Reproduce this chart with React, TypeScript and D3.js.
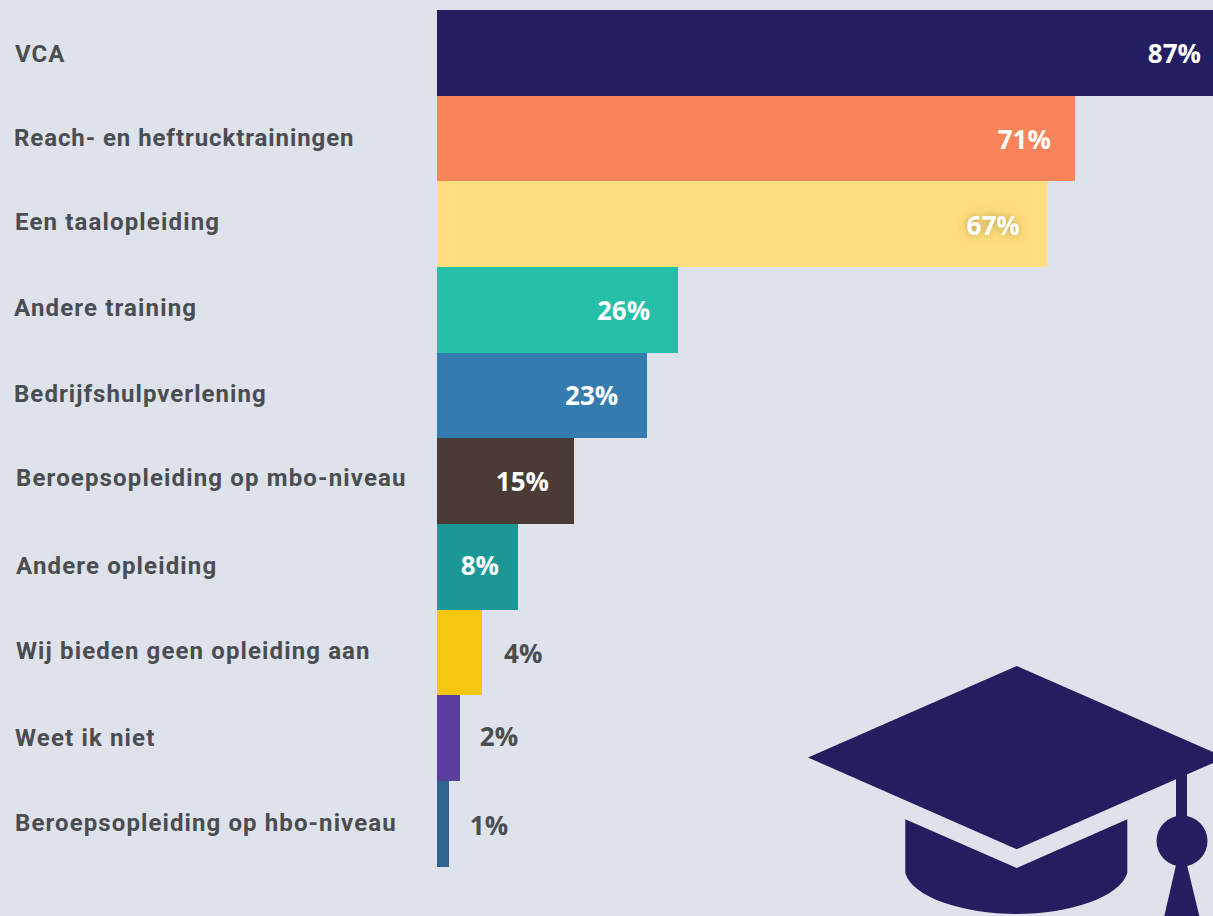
import React from "react";
import * as d3 from "d3";

const categories = ["VCA","Reach- en heftrucktrainingen","Een taalopleiding","Andere training","Bedrijfshulpverlening","Beroepsopleiding op mbo-niveau","Andere opleiding","Wij bieden geen opleiding aan","Weet ik niet","Beroepsopleiding op hbo-niveau"];
const percentLabels = [87,71,67,26,23,15,8,4,2,1];
// bar lengths (the drawn bars are not exact multiples of the rounded labels)
const barValues = [87,70.1,67,26.5,23.1,15.05,8.9,4.95,2.5,1.3];
const colors = ["#221e5f","#f8845a","#fede7e","#25bea6","#347bb0","#4a3b37","#1c9798","#f5c710","#5a3d9c","#2f6491"];
const labelDx = [15,14,15,14,14,16,16,16,15,15];
const labelDy = [1,-1,-3,-2,-2,-3.5,-1,-2,-1,-1];
const valueDy = [1,1,1.5,1,0,0.5,-1,1.5,-1.5,2];
const labelSpacing = [1,0.92,1.15,1.15,1.05,1.15,1.15,1.12,1.15,1.1];

const W = 1213, H = 916;
const x = d3.scaleLinear().domain([0,100]).range([437,437+910]);
const y = d3.scaleBand<string>().domain(categories).range([10,866.6]).padding(0);
const ink = "#4b4d50";
const navy = "#221e5f";

const capBoard = d3.line()([[1016.7,666],[1225.4,757.5],[1016.7,849.3],[808,757.5]]) + "Z";
const capBase = "M905.3 819.3L1016.7 868L1127.3 819.3V873C1120 897 1070 914 1016.7 914C963 914 912 897 905.3 873Z";
const tassel = d3.line()([[1176,865],[1187,865],[1199.3,916],[1164.3,916]]) + "Z";

export default function App() {
  return (
    <svg width={W} height={H} viewBox={`0 0 ${W} ${H}`} style={{position:"fixed",left:0,top:0,display:"block",background:"#dee2ea"}}>
      <defs>
        <filter id="glow" x="-30%" y="-50%" width="160%" height="200%">
          <feDropShadow dx="0" dy="0" stdDeviation="4.5" floodColor="#6b5a20" floodOpacity="0.5"/>
        </filter>
      </defs>
      {categories.map((c,i)=>(
        <rect key={c} x={x(0)} y={y(c)} width={x(barValues[i])-x(0)} height={y.bandwidth()} fill={colors[i]} shapeRendering="crispEdges"/>
      ))}
      {categories.map((c,i)=>(
        <text key={c} x={labelDx[i]} y={(y(c) as number)+y.bandwidth()/2+labelDy[i]} dy="0.36em"
          fontFamily="Roboto" fontWeight={700} fontSize={24} letterSpacing={labelSpacing[i]} fill={ink}>{c}</text>
      ))}
      {categories.map((c,i)=>{
        const inside = percentLabels[i]>=8;
        const end = x(barValues[i]);
        const px = i===0 ? 1201 : inside ? end-[0,24,27,28,29,25,19][i] : end+[0,0,0,0,0,0,0,22,20,21][i];
        return (
          <text key={c} x={px} y={(y(c) as number)+y.bandwidth()/2+valueDy[i]} dy="0.36em"
            textAnchor={inside?"end":"start"} fontFamily="'Open Sans'" fontWeight={700} fontSize={26}
            fill={inside?"#ffffff":ink} filter={i===2?"url(#glow)":undefined}>{percentLabels[i]}%</text>
        );
      })}
      <g fill={navy}>
        <path d={capBoard}/>
        <path d={capBase}/>
        <rect x={1176} y={772} width={11} height={50}/>
        <circle cx={1182} cy={841} r={25.5}/>
        <path d={tassel}/>
      </g>
    </svg>
  );
}
